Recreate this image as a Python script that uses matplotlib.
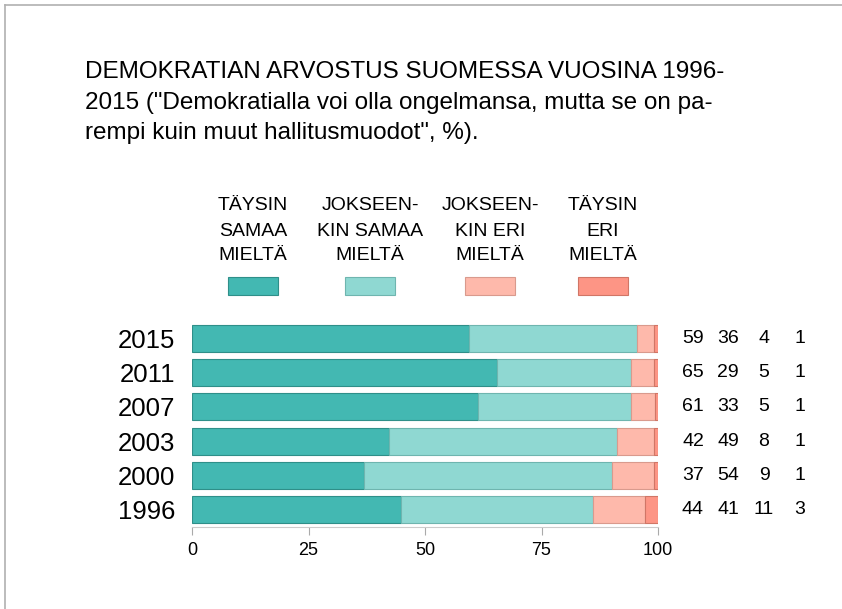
import matplotlib
matplotlib.use("Agg")
import matplotlib.pyplot as plt
from matplotlib.lines import Line2D
from matplotlib.patches import Rectangle
from matplotlib.transforms import blended_transform_factory
from matplotlib import font_manager

years = ["1996", "2000", "2003", "2007", "2011", "2015"]
# bar lengths (unrounded)
taysin_samaa = [44.8, 36.9, 42.2, 61.4, 65.5, 59.4]
jokseenkin_samaa = [41.3, 53.3, 49.1, 32.9, 28.8, 36.1]
jokseenkin_eri = [11.2, 9.0, 7.9, 5.1, 4.9, 3.7]
taysin_eri = [2.7, 0.8, 0.8, 0.6, 0.8, 0.8]
# printed values to the right of the bars
label_values = [
    ["44", "41", "11", "3"],
    ["37", "54", "9", "1"],
    ["42", "49", "8", "1"],
    ["61", "33", "5", "1"],
    ["65", "29", "5", "1"],
    ["59", "36", "4", "1"],
]

legend_labels = [
    ["TÄYSIN", "SAMAA", "MIELTÄ"],
    ["JOKSEEN-", "KIN SAMAA", "MIELTÄ"],
    ["JOKSEEN-", "KIN ERI", "MIELTÄ"],
    ["TÄYSIN", "ERI", "MIELTÄ"],
]
title_lines = [
    "DEMOKRATIAN ARVOSTUS SUOMESSA VUOSINA 1996-",
    "2015 (\"Demokratialla voi olla ongelmansa, mutta se on pa-",
    "rempi kuin muut hallitusmuodot\", %).",
]

colors = ["#43b8b2", "#8fd8d2", "#feb9ab", "#fd9585"]
edges = ["#2f8f89", "#6fb5af", "#d99a8d", "#d07666"]

names = {f.name for f in font_manager.fontManager.ttflist}
narrow = "Liberation Sans Narrow" if "Liberation Sans Narrow" in names else "Liberation Sans"
plt.rcParams["font.family"] = ["Liberation Sans", "DejaVu Sans"]

W, H = 842, 609
fig = plt.figure(figsize=(W / 100, H / 100), dpi=100)


def fx(px):
    return px / W


def fy(py):
    return 1 - py / H


# border at top and left
fig.add_artist(Line2D([fx(5), 1], [fy(5), fy(5)], color="#b0b0b0", lw=1.2))
fig.add_artist(Line2D([fx(5), fx(5)], [fy(5), 0], color="#b0b0b0", lw=1.2))

for i, line in enumerate(title_lines):
    fig.text(fx(85), fy(72 + 30.5 * i), line, fontsize=17.5, ha="left", va="center")

ax = fig.add_axes([fx(192), fy(527), fx(658) - fx(192), (527 - 321) / H])

series = [taysin_samaa, jokseenkin_samaa, jokseenkin_eri, taysin_eri]
pos = list(range(len(years)))
left = [0] * len(years)
for vals, c, e in zip(series, colors, edges):
    ax.barh(pos, vals, left=left, height=0.78, color=c, edgecolor=e, linewidth=0.8)
    left = [a + b for a, b in zip(left, vals)]

ax.set_xlim(0, 100)
ax.set_ylim(-0.5, len(years) - 0.5)
ax.set_yticks(pos)
ax.set_yticklabels(years, fontsize=18.5)
ax.tick_params(axis="y", length=0, pad=12)
ax.set_xticks([0, 25, 50, 75, 100])
ax.tick_params(axis="x", length=6, color="#aaaaaa", labelsize=13, pad=5)
for s in ["top", "right", "left"]:
    ax.spines[s].set_visible(False)
ax.spines["bottom"].set_color("#cccccc")

# value columns
col_x = [693, 728, 764, 800]
trans = blended_transform_factory(fig.transFigure, ax.transData)
for y, row in zip(pos, label_values):
    for cx, txt in zip(col_x, row):
        ax.text(fx(cx), y, txt, transform=trans, fontsize=14,
                ha="center", va="center", clip_on=False)

# legend
leg_x = [253, 370, 490, 603]
for lx, lines, c, e in zip(leg_x, legend_labels, colors, edges):
    for k, line in enumerate(lines):
        fig.text(fx(lx), fy(206 + 25 * k), line, family=[narrow, "DejaVu Sans"],
                 fontsize=14, ha="center", va="center")
    fig.add_artist(Rectangle((fx(lx - 25), fy(295)), fx(50), 18 / H,
                             facecolor=c, edgecolor=e, linewidth=0.8,
                             transform=fig.transFigure))

fig.savefig("out.png", dpi=100)
